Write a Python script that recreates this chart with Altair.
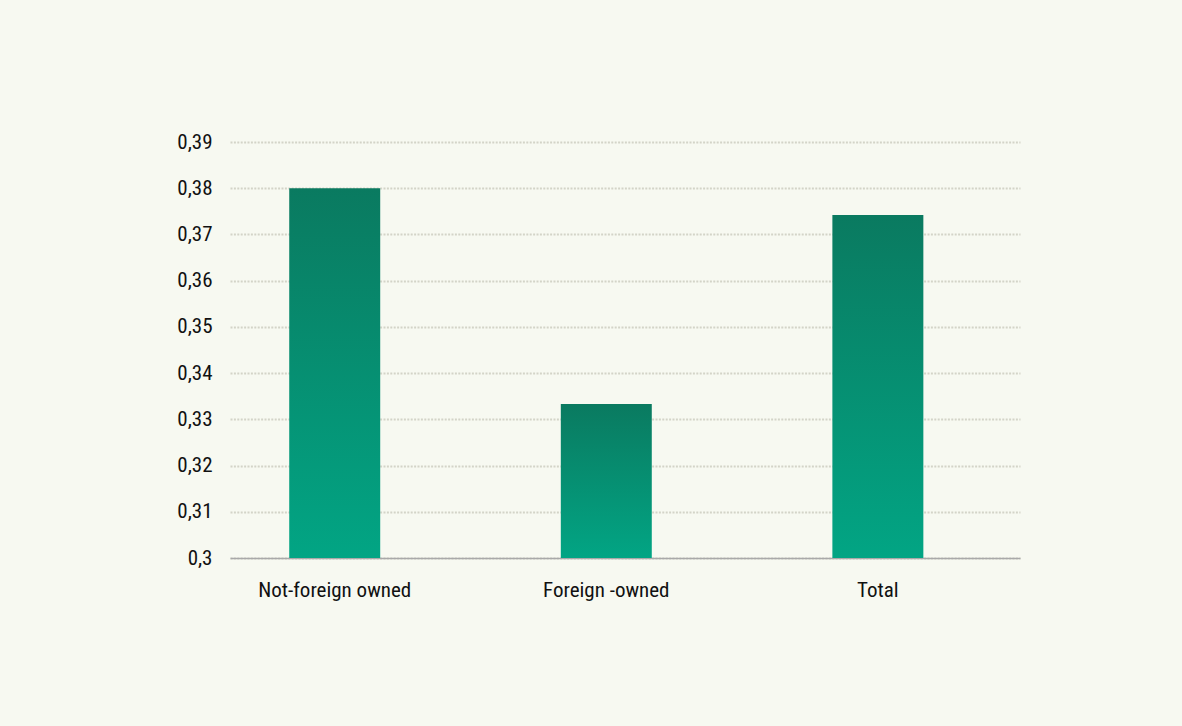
import altair as alt
import pandas as pd

categories = ["Not-foreign owned", "Foreign -owned", "Total"]
values = [0.380, 0.3333, 0.3742]
y_ticks = [0.30, 0.31, 0.32, 0.33, 0.34, 0.35, 0.36, 0.37, 0.38, 0.39]
baseline = 0.30

df = pd.DataFrame({"category": categories, "value": values})

FONT = "Liberation Sans Narrow, Roboto Condensed, DejaVu Sans Condensed, sans-serif"

bar_fill = alt.Gradient(
    gradient="linear",
    stops=[
        alt.GradientStop(color="#0a7a60", offset=0),
        alt.GradientStop(color="#02a584", offset=1),
    ],
    x1=0, x2=0, y1=0, y2=1,
)

chart = (
    alt.Chart(df)
    .mark_bar(fill=bar_fill)
    .encode(
        x=alt.X(
            "category:N",
            sort=categories,
            scale=alt.Scale(paddingInner=0.665, paddingOuter=0.287, align=0.38),
            axis=alt.Axis(
                title=None,
                labelAngle=0,
                ticks=False,
                domain=True,
                domainColor="#a9a9a9",
                domainWidth=1.5,
                labelFont=FONT,
                labelFontSize=21,
                labelColor="#111111",
                labelPadding=21,
                grid=False,
            ),
        ),
        y=alt.Y(
            "value:Q",
            scale=alt.Scale(domain=[0.3, 0.39], nice=False, zero=False),
            axis=alt.Axis(
                title=None,
                values=y_ticks,
                format=".2~f",
                labelExpr="replace(datum.label, '.', ',')",
                ticks=False,
                domain=False,
                grid=True,
                gridColor="#d3d4c8",
                gridDash=[2, 1.4],
                gridWidth=2,
                labelFont=FONT,
                labelFontSize=21,
                labelColor="#111111",
                labelPadding=18,
            ),
        ),
        y2=alt.datum(baseline),
    )
    .properties(
        width=790,
        height=416,
        autosize=alt.AutoSizeParams(type="none"),
        padding={"left": 230, "top": 142, "right": 162, "bottom": 168},
        background="#f7f9f1",
    )
    .configure_view(stroke=None)
)

chart.save("out.html", embed_options={"renderer": "svg", "actions": False})
